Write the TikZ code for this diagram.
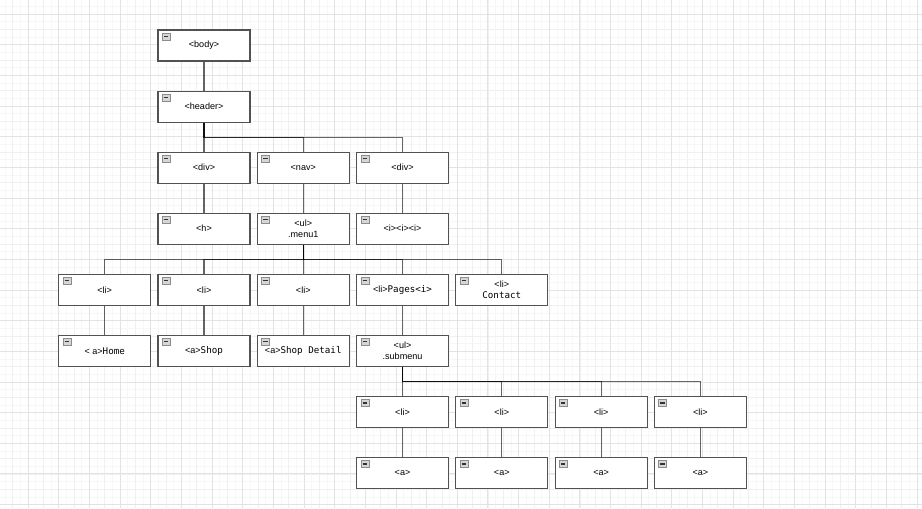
\documentclass[tikz,border=0pt]{standalone}
\usepackage{fontspec}
\newfontfamily\tagfont{Liberation Sans}
\newfontfamily\monofont{DejaVu Sans Mono}
\usetikzlibrary{positioning}
\newcommand{\tagsize}{\tagfont\fontsize{6.8}{8.6}\selectfont}
\newcommand{\codetxt}[1]{{\monofont\fontsize{6.9}{8.6}\selectfont #1}}
\tikzset{
  tagbox/.style={rectangle, draw=black!68, fill=white, line width=0.85pt, minimum width=69pt, minimum height=23.25pt, inner sep=1pt, align=center, font=\tagsize,
    path picture={
      \draw[black!45, fill=black!16, line width=0.4pt] ([xshift=3.2pt,yshift=-2.4pt]path picture bounding box.north west) rectangle ++(6pt,-5pt);
      \draw[black!80, line width=0.9pt] ([xshift=4.6pt,yshift=-4.9pt]path picture bounding box.north west) -- ++(3.2pt,0);
    }},
  link/.style={draw=black, draw opacity=0.6, line width=0.8pt},
  branch/.style={link, to path={(\tikztostart) -- ++(0,15) -| (\tikztotarget)}},
  finegrid/.style={draw=black!3, line width=0.3pt},
  midgrid/.style={draw=black!6, line width=0.3pt},
  maingrid/.style={draw=black!11, line width=0.4pt},
}
\begin{document}
\begin{tikzpicture}[x=0.75pt, y=-0.75pt, node distance=21.7pt and 4.6pt]
  \useasboundingbox (0,0) rectangle (922,508);
  % paper grid
  \begin{scope}
    \clip (0,0) rectangle (922,508);
    \fill[white] (0,0) rectangle (922,508);
    \foreach \i in {0,...,121} \draw[finegrid] ({\i*7.6625-2.65},0) -- ++(0,508);
    \foreach \i in {0,...,67} \draw[finegrid] (0,{\i*7.6625-1.33}) -- ++(922,0);
    \foreach \i in {0,...,61} \draw[midgrid] ({\i*15.325-2.65},0) -- ++(0,508);
    \foreach \i in {0,...,34} \draw[midgrid] (0,{\i*15.325-1.33}) -- ++(922,0);
    \foreach \i in {0,...,30} \draw[maingrid] ({\i*30.65-2.65},0) -- ++(0,508);
    \foreach \i in {0,...,16} \draw[maingrid] (0,{\i*30.65+14}) -- ++(922,0);
  \end{scope}
  % page tree
  \node[tagbox] at (204,45.5) (body) {<body>};
  \node[tagbox, below=of body] (header) {<header>};
  \node[tagbox, below=of header] (hdiv) {<div>};
  \node[tagbox, right=of hdiv] (nav) {<nav>};
  \node[tagbox, right=of nav] (idiv) {<div>};
  \node[tagbox, below=of hdiv] (h) {<h>};
  \node[tagbox, below=of nav] (menu) {<ul>\\.menu1};
  \node[tagbox, below=of idiv] (icons) {<i><i><i>};
  \node[tagbox, below=of menu] (lidetail) {<li>};
  \node[tagbox, left=of lidetail] (lishop) {<li>};
  \node[tagbox, left=of lishop] (lihome) {<li>};
  \node[tagbox, right=of lidetail] (lipages) {<li>\codetxt{Pages<i>}};
  \node[tagbox, right=of lipages] (licontact) {<li>\\\codetxt{Contact}};
  \node[tagbox, below=of lihome] (ahome) {< a>\codetxt{Home}};
  \node[tagbox, below=of lishop] (ashop) {<a>\codetxt{Shop}};
  \node[tagbox, below=of lidetail] (adetail) {<a>\codetxt{Shop Detail}};
  \node[tagbox, below=of lipages] (submenu) {<ul>\\.submenu};
  % submenu items
  \node[tagbox, below=of submenu] (subli1) {<li>};
  \node[tagbox, right=of subli1] (subli2) {<li>};
  \node[tagbox, right=of subli2] (subli3) {<li>};
  \node[tagbox, right=of subli3] (subli4) {<li>};
  \foreach \i in {1,...,4}
    \node[tagbox, below=of subli\i] (suba\i) {<a>};
  % connectors
  \draw[link] (body) -- (header);
  \foreach \c in {hdiv,nav,idiv}
    \draw[branch] (header.south) to (\c.north);
  \draw[link] (hdiv) -- (h);
  \draw[link] (nav) -- (menu);
  \draw[link] (idiv) -- (icons);
  \foreach \c in {lihome,lishop,lidetail,lipages,licontact}
    \draw[branch] (menu.south) to (\c.north);
  \draw[link] (lihome) -- (ahome);
  \draw[link] (lishop) -- (ashop);
  \draw[link] (lidetail) -- (adetail);
  \draw[link] (lipages) -- (submenu);
  \foreach \i in {1,...,4} {
    \draw[branch] (submenu.south) to (subli\i.north);
    \draw[link] (subli\i) -- (suba\i);
  }
\end{tikzpicture}
\end{document}
